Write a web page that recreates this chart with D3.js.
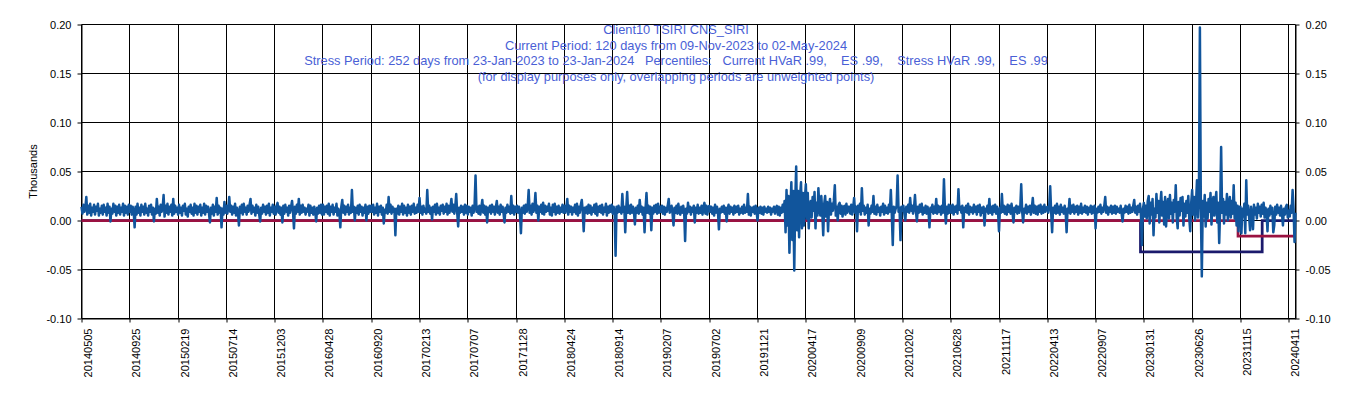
<!DOCTYPE html>
<html>
<head>
<meta charset="utf-8">
<script src="https://cdn.jsdelivr.net/npm/d3@7"></script>
<style>
  html, body { margin: 0; padding: 0; background: #fff; }
  svg { display: block; font-family: Arial, "Liberation Sans", sans-serif; }
</style>
</head>
<body>
<svg id="svg" width="1353" height="398"></svg>
<script>
// chart text
const titleLines = [
  "Client10 TSIRI CNS_SIRI",
  "Current Period: 120 days from 09-Nov-2023 to 02-May-2024",
  "Stress Period: 252 days from 23-Jan-2023 to 23-Jan-2024   Percentiles:   Current HVaR .99,    ES .99,    Stress HVaR .99,    ES .99",
  "(for display purposes only, overlapping periods are unweighted points)"
];
const yLabel = "Thousands";

// category labels, one every 100 trading days
const dateLabels = [
  "20140505", "20140925", "20150219", "20150714", "20151203", "20160428",
  "20160920", "20170213", "20170707", "20171128", "20180424", "20180914",
  "20190207", "20190702", "20191121", "20200417", "20200909", "20210202",
  "20210628", "20211117", "20220413", "20220907", "20230131", "20230626",
  "20231115", "20240411"
];
const yTicks = [-100, -50, 0, 50, 100, 150, 200]; // units, shown in thousands

const dayCount = 2515;
const blockDays = 100;
const sampleStep = 2;

// daily P&L (units), one row per 100-day block,
// one value every 2 trading days
const pnlRows = [
  [14, 7, 16, 9, 13, 24, 6, 15, 8, 17, 5, 13, 9, 16, 6, 14, 10, 17, 5, 12,
   8, 15, 6, 16, 9, 13, 5, 17, 8, 14, -1, 12, 7, 17, 9, 15, 5, 14, 8, 16,
   6, 13, 9, 17, 5, 15, 8, 14, 6, 16],
  [9, 15, 6, 14, 10, -7, 14, 6, 17, 8, 13, 5, 16, 9, 14, 6, 17, 8, 12, 5,
   15, 9, 16, 6, 13, -1, 12, 7, 22, 8, 14, 5, 16, 9, 13, 26, 4, 15, 8, 17,
   6, 14, 9, 16, 5, 22, 7, 15, 9, 13],
  [6, 16, 8, 13, 5, 15, 10, 17, 6, 12, 4, 14, 9, 16, 7, 13, 5, 17, 8, 15,
   6, 14, 9, 16, 5, 13, 8, 17, 6, 15, 9, 14, 7, -2, 13, 7, 16, 5, 14, 9,
   23, 6, 15, 8, 13, -7, 12, 6, 19, 8],
  [15, 7, 13, 24, 9, 15, 6, 14, 8, 17, 5, 13, 9, -5, 14, 8, 16, 6, 17, 9,
   13, 6, 15, 9, 16, 22, 7, 15, 9, 13, 5, 16, 8, 14, 6, -1, 13, 7, 16, 9,
   14, 6, 15, 8, 17, 5, 13, 9, 16, 7],
  [14, 6, 15, 18, 8, 14, 6, 13, -2, 15, 7, 16, 9, 13, 5, 15, 8, 14, 20, 9,
   -8, 14, 7, 16, 9, 22, 6, 15, 8, 16, 9, 13, 6, 12, 9, 16, 5, 15, 8, 13,
   6, 14, 9, -1, 13, 7, 15, 8, 16, 6],
  [16, 6, 14, 9, 15, 7, 17, 5, 14, 9, 16, 6, 13, 9, 17, 5, 12, 8, -7, 14,
   21, 8, 15, 6, 14, 9, 16, 6, 13, 8, 31, 9, 14, 0, 13, 8, 15, 6, 16, 9,
   14, 5, 13, 8, 16, 0, 14, 7, 15, 9],
  [15, 9, 16, 6, 13, 8, 17, 5, 14, 9, 15, 6, 13, -3, 11, 8, 16, 7, 24, 9,
   16, 7, 14, 9, 12, -15, 12, 7, 15, 6, 14, 9, 17, 6, 15, 8, 13, 5, 16, 8,
   14, 6, 15, 9, 17, 7, 13, 8, 16, 9],
  [23, 8, 14, 6, 15, 9, 12, 7, 31, 9, 15, 7, 13, 1, 14, 9, 16, 6, 17, 8,
   13, 6, 15, 10, 16, 7, 14, 9, 17, 6, 15, 8, 13, 22, 9, 16, 7, 14, 27, 8,
   -6, 13, 8, 15, 9, 14, 6, 16, 8, 15],
  [6, 14, 9, 13, 5, 15, 8, 16, 46, 9, 14, 7, 15, 6, 13, 21, 8, 15, 6, 14,
   -2, 13, 9, 15, 7, 16, 9, 14, 6, 13, 20, 8, 14, 6, 16, 9, 14, 7, -2, 13,
   8, 16, 9, 14, 7, 25, 8, 15, 6, 14],
  [9, 15, 8, 14, 7, -13, 13, 8, 15, 7, 16, 9, 14, 31, 8, 15, 6, 17, 9, 13,
   28, 8, 15, 0, 14, 9, 16, 7, 18, 6, 15, 9, 14, 10, 17, 6, 13, 5, 16, 9,
   17, 6, 14, 8, 15, 7, 13, 9, 16, 8],
  [15, 8, 13, 22, 6, 15, 9, 14, 6, 13, 9, 16, 7, 17, 5, 14, 8, 16, 21, 9,
   -11, 13, 8, 14, 7, 16, 8, 15, 6, 13, 9, 16, 7, 17, 5, 14, 9, 15, 8, 16,
   6, 13, 9, 17, 5, 14, 8, 15, 9, 16],
  [7, 14, 9, -36, 14, 8, 15, 9, 13, 7, 27, 9, 14, -12, 12, 29, 8, 15, 7, 16,
   8, 14, 9, -4, 13, 8, 15, 7, 21, 9, 14, 6, 13, -12, 12, 28, 8, 15, 7, 14,
   -10, 13, 7, 15, 9, 16, 7, 17, 8, 14],
  [9, 15, 7, 14, 6, 13, 9, 15, 22, 8, 10, 15, 7, -5, 13, 8, 15, 7, 17, 9,
   6, 14, 8, 15, 9, -21, 12, 7, 18, 9, 14, 6, 13, 9, 15, -2, 13, 8, 16, 7,
   13, 8, 15, 6, 14, 18, 7, 15, 6, 14],
  [15, 9, 14, 7, 13, 5, 16, 8, 14, 9, -9, 12, 8, 14, 9, 15, 7, 13, -1, 12,
   16, 7, 14, 9, 13, 6, 15, 8, 14, 9, 15, 6, 12, 8, 14, 7, 16, 8, 13, 9,
   27, 6, 14, 5, 13, 9, 14, 7, 15, 9],
  [0, 13, 8, 14, 7, 13, 6, 14, 9, 12, 8, 14, 9, 13, 6, 12, 9, 14, 7, 13,
   15, 6, 14, 5, 13, 8, 16, 9, 20, -12, 31, -5, 25, -33, 10, 39, -20, 30, -51, 20,
   55, -10, 30, -17, 25, 39, -8, 28, -5, 22],
  [37, 2, 28, -8, 15, 20, 3, 24, 10, 29, -8, 18, 5, 33, 12, 5, 25, 9, -15, 17,
   25, 4, 19, -11, 14, 22, 6, 17, 10, 20, 36, 5, 14, 0, 16, 18, 7, 15, 4, 14,
   15, 6, 17, 8, 14, 14, 7, 16, 6, 13],
  [23, 8, 14, -11, 15, 9, 17, 6, 33, 10, 15, 6, 13, 8, 16, -5, 12, 7, 15, 9,
   25, 7, 14, 6, 16, 9, 13, 5, 14, 9, 17, 6, 15, 8, 13, 7, 16, 9, 31, 6,
   -25, 14, 8, 12, 15, 46, 9, 13, -20, 14],
  [10, 15, 7, 0, 14, 9, 16, 8, 23, 10, 15, 7, 13, 26, 9, -1, 14, 8, 16, 9,
   17, 6, 13, 8, 15, 7, 14, 9, -7, 13, 9, 16, 7, 14, 8, 22, 7, 15, 9, 14,
   6, 15, 8, 42, 12, -3, 14, 7, 16, 8],
  [15, 8, 16, 6, 14, 9, 15, 7, 32, 11, 14, 8, 15, -7, 13, 9, 15, 8, 17, 6,
   14, 9, 13, 7, 16, 9, 14, 6, 15, 9, 16, 5, 13, 8, 14, -5, 12, 9, 15, 7,
   22, 8, 14, 6, 15, 9, 16, 7, 14, 9],
  [-11, 13, 8, 27, 9, 15, 7, 14, 6, 16, 9, 15, 7, 17, 8, -2, 13, 9, 15, 7,
   14, 8, 13, 37, 9, -2, 12, 8, 16, 7, 14, 9, 15, 6, 13, 23, 8, 15, 7, 14,
   6, 15, 9, 16, 7, 14, 8, 16, 9, 13],
  [14, 8, 15, 35, 9, -12, 13, 8, 15, 7, 17, 8, 14, 6, 16, 9, 13, 7, 15, 9,
   -12, 12, 8, 22, 7, 15, 9, 16, 7, 14, 9, 15, 6, 14, 8, 17, 7, 13, 9, 15,
   8, 14, 6, 13, 9, 15, 7, 14, 8, 15],
  [-8, 12, 8, 14, 9, 16, 7, 13, 9, 15, 24, 8, 14, 6, 13, 9, 15, 7, 14, 8,
   15, 7, 14, 9, 12, 8, 15, 7, -1, 12, 8, 15, 9, 14, 7, 16, 8, 13, 9, 15,
   21, 8, 14, 6, 15, 9, 17, 5, -25, 12],
  [18, 4, 15, 2, 20, 25, -3, 18, 6, 22, -15, 12, 3, 27, 8, 20, -2, 16, 29, 5,
   19, -4, 24, -6, 14, 22, 2, 26, 7, 18, -2, 21, 9, 36, 3, -8, 19, 5, 23, 10,
   24, -5, 17, 4, 20, 8, 25, 2, -11, 18],
  [31, 6, 24, 0, 18, 41, 3, 27, 197, 12, -57, 20, 4, 26, -6, 18, 2, 22, 9, 28,
   -4, 17, 24, 5, 20, 29, -2, 18, -23, 12, 75, 8, 22, -3, 19, 6, 27, 0, 16, 24,
   3, 20, 7, 36, 2, 18, -5, 15, -11, 14],
  [14, -13, 12, 4, 17, -13, 41, 6, 15, 3, -10, 14, 5, -9, 16, 6, 13, 2, 17, 8,
   14, 4, 16, 7, 18, 3, 13, 8, -11, 12, 5, 15, 7, 13, -12, -5, 14, 6, 16, 8,
   13, 5, 15, 7, -5, 12, 6, 14, 16, 3],
  [10, 4, 15, 8, 31, 12, -22, 8]
];

// HVaR levels (units) and the periods they apply to (trading day index)
const currentStart = 2395;
const currentHVaR = -16;
const stressStart = 2193;
const stressEnd = 2445;
const stressHVaR = -32;

const svg = d3.select("#svg");
const plotLeft = 81.5, plotRight = 1295.5, plotTop = 24.5, plotBottom = 318.5;

const x = d3.scaleLinear().domain([0, dayCount - 1]).range([plotLeft, plotRight]);
const y = d3.scaleLinear().domain([-100, 200]).range([plotBottom, plotTop]);
const px = d => Math.floor(x(d)) + 0.5;

const fmt = d => (d / 1000).toFixed(2);
const dayTicks = dateLabels.map((d, i) => i * blockDays);

// grid
const grid = svg.append("g").attr("stroke", "#000").attr("stroke-width", 1);
grid.selectAll(".h").data(yTicks).join("line")
  .attr("x1", plotLeft).attr("x2", plotRight)
  .attr("y1", d => y(d)).attr("y2", d => y(d));
grid.selectAll(".v").data(dayTicks).join("line")
  .attr("x1", d => px(d)).attr("x2", d => px(d))
  .attr("y1", plotTop).attr("y2", plotBottom);
grid.append("line").attr("x1", plotRight).attr("x2", plotRight).attr("y1", plotTop).attr("y2", plotBottom);

// axes
const yLeft = svg.append("g")
  .attr("transform", `translate(${plotLeft},0)`)
  .call(d3.axisLeft(y).tickValues(yTicks).tickFormat(fmt).tickSize(4).tickPadding(6).tickSizeOuter(0));
const yRight = svg.append("g")
  .attr("transform", `translate(${plotRight},0)`)
  .call(d3.axisRight(y).tickValues(yTicks).tickFormat(fmt).tickSize(4).tickPadding(6).tickSizeOuter(0));
const xAxis = svg.append("g")
  .attr("transform", `translate(0,${plotBottom})`)
  .call(d3.axisBottom(x).tickValues(dayTicks).tickFormat((d, i) => dateLabels[i]).tickSize(4).tickSizeOuter(0));
xAxis.selectAll(".tick line").attr("transform", d => `translate(${px(d) - x(d)},0)`);
xAxis.selectAll("text")
  .attr("transform", "rotate(-90)")
  .attr("x", -10)
  .attr("y", 10)
  .attr("dy", "0")
  .style("text-anchor", "end");

[yLeft, yRight, xAxis].forEach(g => {
  g.selectAll(".domain").attr("stroke", "#000");
  g.selectAll(".tick line").attr("stroke", "#000");
  g.selectAll("text").attr("fill", "#000").style("font-size", "11px").style("font-family", "Arial, 'Liberation Sans', sans-serif");
});

// HVaR step lines
const step = d3.line().x(d => x(d[0])).y(d => y(d[1])).curve(d3.curveStepAfter);
const stressData = [[0, 0], [stressStart, stressHVaR], [stressEnd, 0], [dayCount - 1, 0]];
const currentData = [[0, 0], [currentStart, currentHVaR], [dayCount - 1, currentHVaR]];

svg.append("path").attr("d", step(stressData))
  .attr("fill", "none").attr("stroke", "#1b1a6c").attr("stroke-width", 2.75);
svg.append("path").attr("d", step(currentData))
  .attr("fill", "none").attr("stroke", "#9a1241").attr("stroke-width", 2.75);

// P&L series
const series = pnlRows.flatMap((row, k) =>
  row.map((v, m) => [Math.min(k * blockDays + m * sampleStep, dayCount - 1), v]));
svg.append("path")
  .attr("d", d3.line().x(d => x(d[0])).y(d => y(d[1]))(series))
  .attr("fill", "none")
  .attr("stroke", "#11559c")
  .attr("stroke-width", 2.5)
  .attr("stroke-linejoin", "round");

// y label
svg.append("text")
  .attr("transform", `translate(37,${(plotTop + plotBottom) / 2}) rotate(-90)`)
  .attr("text-anchor", "middle")
  .style("font-size", "11px")
  .text(yLabel);

// title block
svg.append("g").selectAll("text").data(titleLines).join("text")
  .attr("x", 676)
  .attr("y", (d, i) => 34 + i * 15.7)
  .attr("text-anchor", "middle")
  .attr("fill", "#4a5fd6")
  .style("font-size", "12.8px")
  .style("white-space", "pre")
  .text(d => d);
</script>
</body>
</html>
